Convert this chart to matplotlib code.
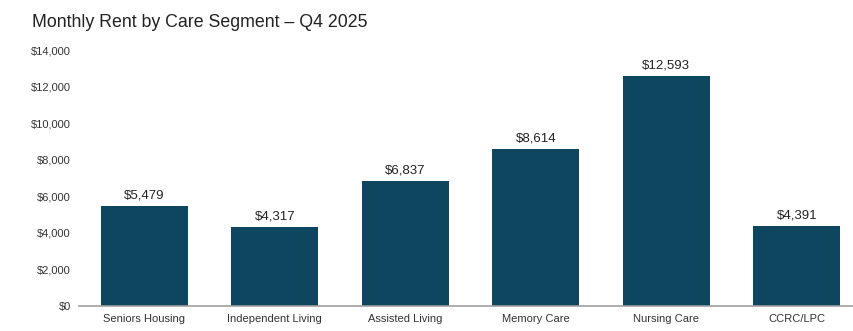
import matplotlib.pyplot as plt
from matplotlib.ticker import FuncFormatter

plt.rcParams['font.family'] = ['Liberation Sans', 'DejaVu Sans']

segments = ['Seniors Housing', 'Independent Living', 'Assisted Living',
            'Memory Care', 'Nursing Care', 'CCRC/LPC']
rent = [5479, 4317, 6837, 8614, 12593, 4391]

fig = plt.figure(figsize=(8.54, 3.31), dpi=100)
ax = fig.add_axes([0.0925, 0.0755, 0.917, 0.773])

x = range(len(segments))
bars = ax.bar(x, rent, width=0.667, color='#0e4660')

for b, v in zip(bars, rent):
    ax.text(b.get_x() + b.get_width() / 2, v + 250, f'${v:,.0f}',
            ha='center', va='bottom', fontsize=9.5, color='#222222')

ax.set_xlim(-0.5, 5.5)
ax.set_ylim(0, 14000)
ax.set_yticks(range(0, 14001, 2000))
ax.yaxis.set_major_formatter(FuncFormatter(lambda v, p: f'${v:,.0f}'))
ax.set_xticks(list(x))
ax.set_xticklabels(segments)

for s in ['top', 'right', 'left']:
    ax.spines[s].set_visible(False)
ax.spines['bottom'].set_color('#a0a0a0')
ax.spines['bottom'].set_linewidth(1.2)
ax.tick_params(axis='both', length=0, labelsize=8, colors='#333333')
ax.tick_params(axis='y', pad=6)
ax.tick_params(axis='x', pad=6)

fig.text(0.038, 0.905, 'Monthly Rent by Care Segment – Q4 2025',
         fontsize=12.8, color='#222222', ha='left', va='bottom')

fig.savefig('out.png', dpi=100)
